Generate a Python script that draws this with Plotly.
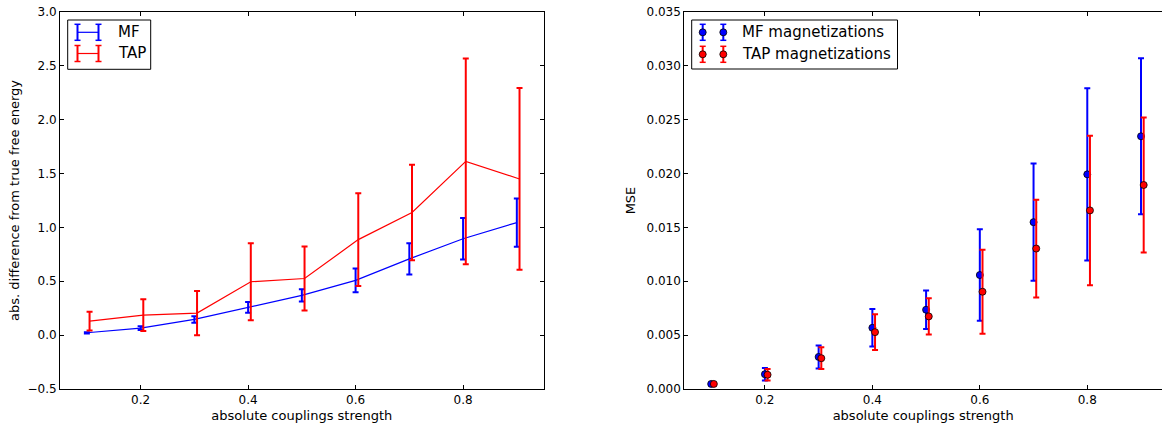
import plotly.graph_objects as go

# ---------------- data ----------------
couplings = [0.1, 0.2, 0.3, 0.4, 0.5, 0.6, 0.7, 0.8, 0.9]
tap_shift = 0.005

mf_free = [0.022, 0.065, 0.146, 0.258, 0.369, 0.509, 0.708, 0.895, 1.045]
mf_free_err = [0.006, 0.018, 0.030, 0.050, 0.057, 0.110, 0.146, 0.192, 0.224]
tap_free = [0.130, 0.186, 0.205, 0.496, 0.526, 0.887, 1.139, 1.613, 1.450]
tap_free_err = [0.087, 0.147, 0.205, 0.358, 0.298, 0.430, 0.444, 0.956, 0.844]

mf_mse = [0.00047, 0.00137, 0.00298, 0.00568, 0.00736, 0.01058, 0.01549, 0.01993, 0.02346]
mf_mse_err = [0.00010, 0.00057, 0.00107, 0.00174, 0.00179, 0.00424, 0.00545, 0.00799, 0.00724]
tap_mse = [0.00047, 0.00132, 0.00286, 0.00528, 0.00674, 0.00903, 0.01304, 0.01658, 0.01894]
tap_mse_err = [0.00010, 0.00054, 0.00101, 0.00165, 0.00169, 0.00390, 0.00454, 0.00694, 0.00627]

left_yticks = [-0.5, 0.0, 0.5, 1.0, 1.5, 2.0, 2.5, 3.0]
right_yticks = [0.000, 0.005, 0.010, 0.015, 0.020, 0.025, 0.030, 0.035]
xticks = [0.2, 0.4, 0.6, 0.8]

BLUE = "#0000ff"
RED = "#ff0000"
FONT = "DejaVu Sans"

tap_x = [c + tap_shift for c in couplings]

fig = go.Figure()

# left panel
fig.add_trace(go.Scatter(
    x=couplings, y=mf_free, mode="lines", name="MF",
    line=dict(color=BLUE, width=1.2),
    error_y=dict(type="data", array=mf_free_err, color=BLUE, thickness=2, width=3),
    xaxis="x", yaxis="y", showlegend=False))
fig.add_trace(go.Scatter(
    x=tap_x, y=tap_free, mode="lines", name="TAP",
    line=dict(color=RED, width=1.2),
    error_y=dict(type="data", array=tap_free_err, color=RED, thickness=2, width=3),
    xaxis="x", yaxis="y", showlegend=False))

# right panel
fig.add_trace(go.Scatter(
    x=couplings, y=mf_mse, mode="markers", name="MF magnetizations",
    marker=dict(color=BLUE, size=7, line=dict(color="black", width=0.8)),
    error_y=dict(type="data", array=mf_mse_err, color=BLUE, thickness=2, width=3),
    xaxis="x2", yaxis="y2", showlegend=False))
fig.add_trace(go.Scatter(
    x=tap_x, y=tap_mse, mode="markers", name="TAP magnetizations",
    marker=dict(color=RED, size=7, line=dict(color="black", width=0.8)),
    error_y=dict(type="data", array=tap_mse_err, color=RED, thickness=2, width=3),
    xaxis="x2", yaxis="y2", showlegend=False))

# ---------------- layout ----------------
W, H = 1162, 426
ML, MR, MT, MB = 60, 0, 12, 37
PW = W - ML - MR
PH = H - MT - MB
L_X0, L_X1 = 60, 543.7
R_X0, R_X1 = 684.3, 1162

def dom(a, b):
    return [(a - ML) / PW, (b - ML) / PW]

axis_common = dict(
    showgrid=False, zeroline=False, showline=True, linecolor="black", linewidth=1,
    ticks="inside", ticklen=4, tickwidth=1, tickcolor="black",
    tickfont=dict(family=FONT, size=12, color="black"),
    automargin=False,
)
title_font = dict(family=FONT, size=13, color="black")

fig.update_layout(
    width=W, height=H, autosize=False,
    margin=dict(l=ML, r=MR, t=MT, b=MB, pad=0),
    paper_bgcolor="white", plot_bgcolor="white",
    font=dict(family=FONT, size=12, color="black"),
    showlegend=False,
    xaxis=dict(domain=dom(L_X0, L_X1), range=[0.05, 0.95], tickvals=xticks,
               ticktext=[f"{t:.1f}" for t in xticks], mirror="ticks", anchor="y",
               title=dict(text="absolute couplings strength", font=title_font, standoff=4),
               **axis_common),
    yaxis=dict(domain=[0, 1], range=[-0.5, 3.0], tickvals=left_yticks, tickformat=".1f",
               mirror="ticks", anchor="x",
               title=dict(text="abs. difference from true free energy", font=title_font, standoff=4),
               **axis_common),
    xaxis2=dict(domain=dom(R_X0, R_X1),
                range=[0.05, 0.05 + (R_X1 - R_X0) / 537.3],
                tickvals=xticks, ticktext=[f"{t:.1f}" for t in xticks], mirror="ticks", anchor="y2",
                title=dict(text="absolute couplings strength", font=title_font, standoff=4),
                **axis_common),
    yaxis2=dict(domain=[0, 1], range=[0, 0.035], tickvals=right_yticks, tickformat=".3f",
                mirror=False, anchor="x2",
                title=dict(text="MSE", font=title_font, standoff=7),
                **axis_common),
)

# ---------------- hand-drawn legends (matplotlib style) ----------------
def px_x(px):
    return (px - ML) / PW

def px_y(py):
    return 1 - (py - MT) / PH

shapes = []
annotations = []

def line(x0, y0, x1, y1, color, width):
    shapes.append(dict(type="line", xref="paper", yref="paper",
                       x0=px_x(x0), y0=px_y(y0), x1=px_x(x1), y1=px_y(y1),
                       line=dict(color=color, width=width)))

def box(x0, y0, x1, y1):
    shapes.append(dict(type="rect", xref="paper", yref="paper",
                       x0=px_x(x0), y0=px_y(y0), x1=px_x(x1), y1=px_y(y1),
                       line=dict(color="black", width=1), fillcolor="white", layer="above"))

def text(x, y, s):
    annotations.append(dict(xref="paper", yref="paper", x=px_x(x), y=px_y(y), text=s,
                            showarrow=False, xanchor="left", yanchor="middle",
                            font=dict(family=FONT, size=15, color="black")))

def circle(cx, cy, color):
    r = 3.5
    shapes.append(dict(type="circle", xref="paper", yref="paper",
                       x0=px_x(cx - r), y0=px_y(cy - r), x1=px_x(cx + r), y1=px_y(cy + r),
                       line=dict(color="black", width=0.8), fillcolor=color, layer="above"))

def vbar(cx, cy, color):
    line(cx, cy - 8, cx, cy + 8, color, 2)
    line(cx - 3, cy - 8, cx + 3, cy - 8, color, 1.5)
    line(cx - 3, cy + 8, cx + 3, cy + 8, color, 1.5)

# left legend
box(67.7, 20, 150.7, 69.3)
for cy, col, lab in [(32.3, BLUE, "MF"), (53.5, RED, "TAP")]:
    line(77.5, cy, 98.5, cy, col, 1.2)
    vbar(77.5, cy, col)
    vbar(98.5, cy, col)
    text(116, cy, lab)

# right legend
box(691.7, 20, 897.5, 69)
for cy, col, lab in [(32.3, BLUE, "MF magnetizations"), (54.3, RED, "TAP magnetizations")]:
    for cx in (702.7, 723.3):
        vbar(cx, cy, col)
        circle(cx, cy, col)
    text(739.5, cy, lab)

for s in shapes:
    s.setdefault("layer", "above")

fig.update_layout(shapes=shapes, annotations=annotations)

fig.write_html("out.html")
